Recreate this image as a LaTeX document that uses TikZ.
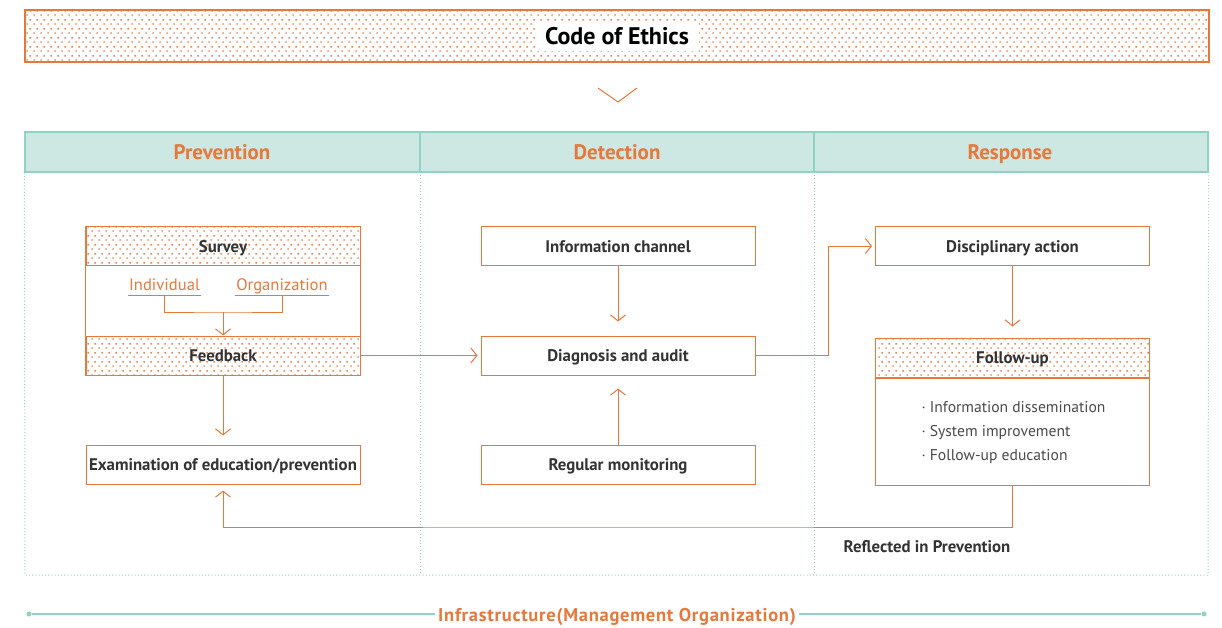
\documentclass[tikz,border=0pt]{standalone}
\usepackage{fontspec}
\setmainfont{PT Sans}
\usepackage{tikz}
\usetikzlibrary{arrows.meta, patterns.meta, calc, positioning}
\usepackage{xcolor}
\definecolor{Orange} {HTML}{E8773A}
\definecolor{OrangeL}{HTML}{F3B48C}
\definecolor{Teal}   {HTML}{8ED3C5}
\definecolor{TealF}  {HTML}{CDE8E2}
\definecolor{DGray}  {HTML}{333333}
\definecolor{MGray}  {HTML}{4A4A4A}
\tikzdeclarepattern{
  name=odots, type=colored,
  tile size={(6.5pt,9pt)},
  bounding box={(0pt,0pt) and (6.5pt,9pt)},
  code={
    \fill[Orange!90] (0.3pt,0.3pt) rectangle ++(1.6pt,1.6pt);
    \fill[Orange!90] (3.55pt,4.8pt) rectangle ++(1.6pt,1.6pt);
  }
}
\tikzset{
  box/.style args={#1/#2}{
    rectangle, draw=Orange, fill=white, text=DGray,
    font=\fontsize{16.8}{19}\selectfont\bfseries, align=center,
    minimum width=#1pt, minimum height=#2pt, inner sep=0pt,
    text height=12pt, text depth=0pt,
    line width=1pt,
  },
  dbox/.style args={#1/#2}{
    box=#1/#2, pattern=odots,
  },
  hdr/.style={
    font=\fontsize{21}{23}\selectfont\bfseries, text=Orange,
    text height=14pt, text depth=0pt,
  },
  sub/.style={
    font=\fontsize{16.6}{18}\selectfont, text=Orange, inner sep=1pt,
    text height=12pt, text depth=4pt,
  },
  arr/.style={
    -{Straight Barb[length=6pt,width=15pt,line width=1pt]},
    line width=1pt, color=Orange,
  },
  ln/.style={line width=1pt, color=Orange},
  tdot/.style={draw=Teal, line width=1pt, dash pattern=on 1pt off 2.2pt},
}
\begin{document}
\begin{tikzpicture}[x=1pt,y=-1pt]
  \useasboundingbox (0,0) rectangle (1222,628);
  % top banner
  \node[dbox=1184/52, line width=1.2pt] (ethics) at (617,36) {};
  \node[fill=white, inner xsep=10pt, inner ysep=5pt, text=black,
        text height=17pt, text depth=1pt,
        font=\fontsize{24}{26}\selectfont\bfseries] (ethtxt) at (617,37) {Code of Ethics};
  \coordinate (chl) at (598,88);
  \coordinate (chm) at (618,102);
  \coordinate (chr) at (637,88);
  \draw[ln] (chl) -- (chm) -- (chr);

  % column headers
  \node[draw=Teal, fill=TealF, line width=1.2pt, minimum width=1183pt, minimum height=40pt,
        inner sep=0pt] (band) at (616.5,152) {};
  \draw[draw=Teal, line width=1.2pt] (420,132) -- (420,172) (814,132) -- (814,172);
  \node[hdr] (prev) at (222,153) {Prevention};
  \node[hdr] (detc) at (617,153) {Detection};
  \node[hdr] (resp) at (1010,153) {Response};
  \draw[tdot] (band.south west) -- (25,575) -- (1208,575) -- (band.south east);
  \draw[tdot] (420,172) -- (420,575);
  \draw[tdot] (814,172) -- (814,575);

  % prevention
  \node[dbox=274/38] (svy) at (223,246) {Survey};
  \node[dbox=274/39] (fb)  at (223,355.5) {Feedback};
  \draw[ln] (svy.north west) rectangle (fb.south east);
  \node[sub] (ind) at (164.5,286) {Individual};
  \node[sub] (org) at (282,286) {Organization};
  \draw[ln] (ind.south west) -- (ind.south east);
  \draw[ln] (org.south west) -- (org.south east);
  \coordinate (jn) at (223,312);
  \draw[ln] (ind.south) |- (jn) -| (org.south);
  \draw[arr] (jn) -- (fb.north);
  \node[box=274/39] (exam) at (223,464.5) {Examination of education/prevention};
  \draw[arr, shorten >=9pt] (fb.south) -- (exam.north);

  % detection
  \node[box=274/38] (info) at (618,246) {Information channel};
  \node[box=274/39] (diag) at (618,355.5) {Diagnosis and audit};
  \node[box=274/39] (mon)  at (618,464.5) {Regular monitoring};
  \draw[arr, shorten >=3pt] (fb.east) -- (diag.west);
  \draw[arr, shorten >=14pt] (info.south) -- (diag.north);
  \draw[arr, shorten >=13pt] (mon.north) -- (diag.south);

  % response
  \node[box=274/38] (disc) at (1012.5,246) {Disciplinary action};
  \node[dbox=274/39] (fuh) at (1012.5,357.5) {Follow-up};
  \node[box=274/107, anchor=north] (fub) at (fuh.south) {};
  \node[anchor=west, align=left, text=MGray, font=\fontsize{15.6}{24}\selectfont]
    (fulist) at (918,433) {· Information dissemination\\· System improvement\\· Follow-up education};
  \coordinate (dj) at (828,355.5);
  \draw[arr, shorten >=3pt] (diag.east) -- (dj) |- (disc.west);
  \draw[arr, shorten >=11pt] (disc.south) -- (fuh.north);

  % feedback loop
  \coordinate (rf) at (618,527);
  \draw[arr, shorten >=6pt] (fub.south) |- (rf) -| (exam.south);
  \node[text=DGray, font=\fontsize{16.8}{19}\selectfont\bfseries, text height=12pt, text depth=0pt]
    (refl) at (927,546) {Reflected in Prevention};

  % infrastructure
  \node[text=Orange, font=\fontsize{18.5}{20}\selectfont\bfseries\addfontfeature{LetterSpace=4},
        text height=13pt, text depth=0pt]
    (infra) at (617,614.5) {Infrastructure(Management Organization)};
  \node[circle, fill=Teal, inner sep=0pt, minimum size=5pt] (dl) at (29,614) {};
  \node[circle, fill=Teal, inner sep=0pt, minimum size=5pt] (dr) at (1204,614) {};
  \draw[Teal, line width=1.4pt] (dl) -- (dl -| infra.west);
  \draw[Teal, line width=1.4pt] (dr -| infra.east) -- (dr);
\end{tikzpicture}
\end{document}
